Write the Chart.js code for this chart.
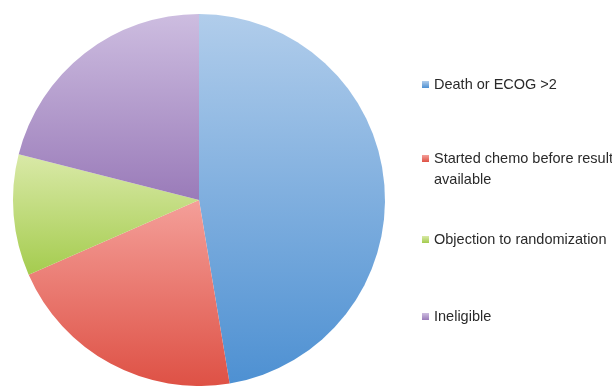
<!DOCTYPE html>
<html>
<head>
<meta charset="utf-8">
<script src="https://cdn.jsdelivr.net/npm/chart.js@4"></script>
<style>
  html, body { margin: 0; padding: 0; background: #fff; width: 612px; height: 386px; overflow: hidden; }
  #wrap { position: absolute; left: 0; top: 0; width: 612px; height: 386px; }
  #legend { position: absolute; left: 420px; top: 0; width: 192px; height: 386px;
            font-family: "Liberation Sans", Arial, sans-serif; font-size: 14.5px; color: #2a2a2a; }
  .item { position: absolute; left: 0; display: flex; align-items: flex-start; }
  .sw { width: 7px; height: 7px; margin-top: 5px; margin-right: 5px; margin-left: 2px; flex: none; }
  .txt { width: 180px; line-height: 20.5px; margin-top: -2px; }
</style>
</head>
<body>
<div id="wrap"><canvas id="c" width="612" height="386"></canvas></div>
<div id="legend"></div>
<script>
const categories = ["Death or ECOG >2", "Started chemo before result available", "Objection to randomization", "Ineligible"];
const values = [45, 20, 10, 20];

// style: gradient stops (fraction of pie height, colour)
const gradients = [
  [[0, "#b1cdeb"], [1, "#4d90d2"]],
  [[0.5, "#f49f99"], [1, "#de5145"]],
  [[0.38, "#d9e9a7"], [0.71, "#a3cb4c"]],
  [[0, "#cdbde0"], [0.5, "#9a7bb9"]]
];
const legendTops = [76, 150, 231, 308];

function makeGrad(ctx, y0, y1, stops) {
  const g = ctx.createLinearGradient(0, y0, 0, y1);
  stops.forEach(s => g.addColorStop(s[0], s[1]));
  return g;
}

const chart = new Chart(document.getElementById("c"), {
  type: "pie",
  data: {
    labels: categories,
    datasets: [{
      data: values,
      borderWidth: 0,
      hoverOffset: 0,
      backgroundColor: (c) => {
        const ch = c.chart;
        const a = ch.chartArea;
        if (!a) return "#ccc";
        return makeGrad(ch.ctx, a.top, a.bottom, gradients[c.dataIndex]);
      }
    }]
  },
  options: {
    responsive: false,
    animation: false,
    layout: { padding: { left: 13, top: 14, right: 227, bottom: 0 } },
    plugins: { legend: { display: false }, tooltip: { enabled: false } }
  }
});

const lg = document.getElementById("legend");
const lctx = document.createElement("canvas").getContext("2d");
categories.forEach((name, i) => {
  const it = document.createElement("div");
  it.className = "item";
  it.style.top = legendTops[i] + "px";
  const sw = document.createElement("div");
  sw.className = "sw";
  const st = gradients[i];
  sw.style.background = "linear-gradient(" + st[0][1] + "," + st[st.length - 1][1] + ")";
  const tx = document.createElement("div");
  tx.className = "txt";
  tx.textContent = name;
  it.appendChild(sw);
  it.appendChild(tx);
  lg.appendChild(it);
});
</script>
</body>
</html>
